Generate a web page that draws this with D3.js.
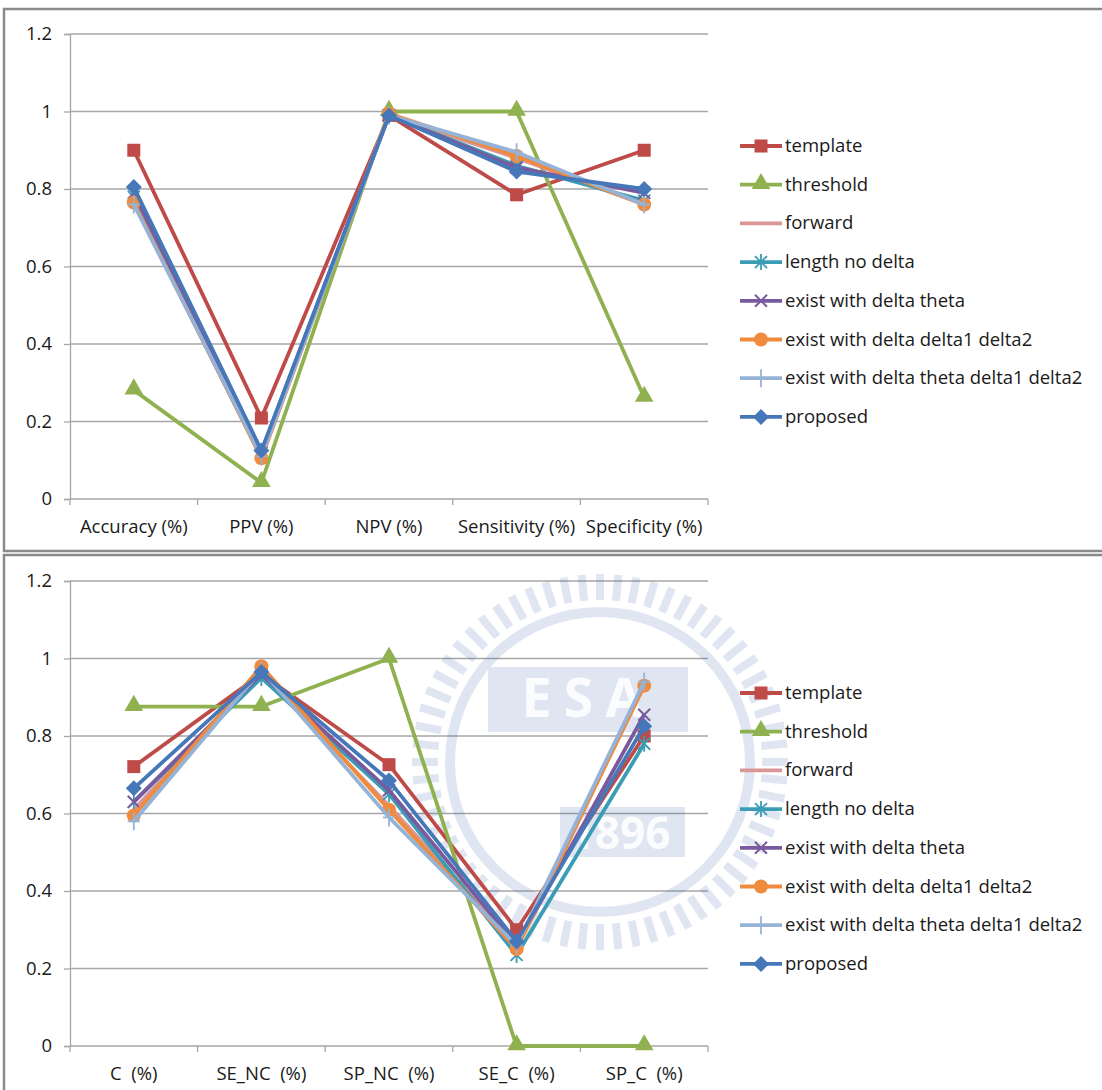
<!DOCTYPE html>
<html>
<head>
<meta charset="utf-8">
<script src="https://cdn.jsdelivr.net/npm/d3@7"></script>
<style>
  html, body { margin: 0; padding: 0; background: #fff; }
  svg { display: block; }
  text { font-family: "Open Sans", Lato, "Liberation Sans", sans-serif; fill: #1a1a1a; }
</style>
</head>
<body>
<svg id="chart" width="1102" height="1090"></svg>
<script>
// ---- data ----
const seriesNames = ["template", "threshold", "forward", "length no delta",
  "exist with delta theta", "exist with delta delta1 delta2",
  "exist with delta theta delta1 delta2", "proposed"];
const seriesColors = ["#BE4B48", "#8FB14F", "#D99694", "#3A9CB5",
  "#7A5A9E", "#F08A3C", "#95B3D7", "#4677B8"];
const seriesMarkers = ["square", "triangle", "none", "asterisk", "x", "circle", "plus", "diamond"];
const yTicks = [0, 0.2, 0.4, 0.6, 0.8, 1, 1.2];

const topCategories = ["Accuracy (%)", "PPV (%)", "NPV (%)", "Sensitivity (%)", "Specificity (%)"];
const topTemplate  = [0.90, 0.209, 0.99, 0.785, 0.90];
const topThreshold = [0.281, 0.042, 1.0, 1.0, 0.262];
const topForward   = [0.77, 0.11, 0.99, 0.88, 0.76];
const topLength    = [0.78, 0.12, 0.99, 0.86, 0.77];
const topTheta     = [0.79, 0.12, 0.99, 0.855, 0.79];
const topD1D2      = [0.765, 0.105, 0.995, 0.885, 0.76];
const topThetaD1D2 = [0.76, 0.11, 0.99, 0.895, 0.76];
const topProposed  = [0.805, 0.125, 0.99, 0.845, 0.80];

const botCategories = ["C  (%)", "SE_NC  (%)", "SP_NC  (%)", "SE_C  (%)", "SP_C  (%)"];
const botTemplate  = [0.721, 0.96, 0.726, 0.30, 0.80];
const botThreshold = [0.876, 0.876, 1.0, 0.0, 0.0];
const botForward   = [0.61, 0.96, 0.62, 0.26, 0.93];
const botLength    = [0.63, 0.95, 0.65, 0.235, 0.78];
const botTheta     = [0.63, 0.96, 0.66, 0.26, 0.855];
const botD1D2      = [0.595, 0.98, 0.61, 0.25, 0.93];
const botThetaD1D2 = [0.58, 0.97, 0.59, 0.26, 0.94];
const botProposed  = [0.665, 0.965, 0.685, 0.27, 0.825];

const topValues = [topTemplate, topThreshold, topForward, topLength, topTheta, topD1D2, topThetaD1D2, topProposed];
const botValues = [botTemplate, botThreshold, botForward, botLength, botTheta, botD1D2, botThetaD1D2, botProposed];

// ---- drawing ----
const svg = d3.select("#chart");
const GRID = "#A6A6A6";
const FONT = 18.5;

// panel frames
svg.append("rect").attr("x", 4).attr("y", 9).attr("width", 1110).attr("height", 542)
  .attr("fill", "none").attr("stroke", "#8a8a8a").attr("stroke-width", 2.5);
svg.append("rect").attr("x", 4).attr("y", 555).attr("width", 1110).attr("height", 560)
  .attr("fill", "none").attr("stroke", "#8a8a8a").attr("stroke-width", 2.5);

function drawMarker(sel, type, color) {
  const s = 6.5;
  if (type === "square") {
    sel.append("rect").attr("x", -s).attr("y", -s).attr("width", 2 * s).attr("height", 2 * s).attr("fill", color);
  } else if (type === "triangle") {
    sel.append("path").attr("d", d3.symbol(d3.symbolTriangle, 150)()).attr("transform", "translate(0,-1)").attr("fill", color);
  } else if (type === "circle") {
    sel.append("circle").attr("r", 7).attr("fill", color);
  } else if (type === "diamond") {
    sel.append("path").attr("d", "M0,-8L8,0L0,8L-8,0Z").attr("fill", color);
  } else if (type === "x") {
    sel.append("path").attr("d", "M-6,-6L6,6M-6,6L6,-6").attr("stroke", color).attr("stroke-width", 2).attr("fill", "none");
  } else if (type === "asterisk") {
    sel.append("path").attr("d", "M-6,-6L6,6M-6,6L6,-6M0,-8L0,8").attr("stroke", color).attr("stroke-width", 1.8).attr("fill", "none");
  } else if (type === "plus") {
    sel.append("path").attr("d", "M0,-9L0,9M-6,0L6,0").attr("stroke", color).attr("stroke-width", 1.8).attr("fill", "none");
  }
}

function drawPanel(top, categories, values, withEmblem) {
  const g = svg.append("g");
  const x0 = 70, x1 = 708;
  const yBottom = top + 490, yTop = top + 25;
  const x = d3.scalePoint().domain(categories).range([x0, x1]).padding(0.5);
  const y = d3.scaleLinear().domain([0, 1.2]).range([yBottom, yTop]);

  // horizontal gridlines
  g.selectAll(".grid").data(yTicks.filter(d => d > 0)).join("line")
    .attr("x1", x0).attr("x2", x1)
    .attr("y1", d => y(d)).attr("y2", d => y(d))
    .attr("stroke", GRID).attr("stroke-width", 1.3);

  // y axis
  const yAxis = d3.axisLeft(y).tickValues(yTicks).tickSize(6).tickPadding(12)
    .tickFormat(d => d3.format("~g")(d));
  const ya = g.append("g").attr("transform", `translate(${x0},0)`).call(yAxis);
  ya.select(".domain").attr("stroke", GRID).attr("stroke-width", 1.3);
  ya.selectAll(".tick line").attr("stroke", GRID).attr("stroke-width", 1.3);
  ya.selectAll(".tick text").attr("font-size", FONT).attr("fill", "#1a1a1a")
    .style("font-family", "'Open Sans', Lato, sans-serif");

  // x axis: ticks at category boundaries
  const step = x.step();
  const bounds = d3.range(categories.length + 1).map(i => x0 + i * step);
  g.append("line").attr("x1", x0).attr("x2", x1).attr("y1", yBottom).attr("y2", yBottom)
    .attr("stroke", GRID).attr("stroke-width", 1.3);
  g.selectAll(".xt").data(bounds).join("line")
    .attr("x1", d => d).attr("x2", d => d).attr("y1", yBottom).attr("y2", yBottom + 6)
    .attr("stroke", GRID).attr("stroke-width", 1.3);
  g.selectAll(".xl").data(categories).join("text")
    .attr("x", d => x(d)).attr("y", yBottom + 34)
    .attr("text-anchor", "middle").attr("font-size", FONT)
    .style("white-space", "pre")
    .text(d => d);

  if (withEmblem) drawEmblem(g);

  // series lines + markers
  const line = d3.line().x((d, i) => x(categories[i])).y(d => y(d));
  values.forEach((vals, si) => {
    const col = seriesColors[si];
    g.append("path").datum(vals).attr("d", line)
      .attr("fill", "none").attr("stroke", col).attr("stroke-width", 3.8)
      .attr("stroke-linejoin", "round");
    vals.forEach((v, i) => {
      const m = g.append("g").attr("transform", `translate(${x(categories[i])},${y(v)})`);
      drawMarker(m, seriesMarkers[si], col);
    });
  });

  // legend
  const lg = g.append("g").attr("transform", `translate(740,${top + 137})`);
  seriesNames.forEach((name, i) => {
    const row = lg.append("g").attr("transform", `translate(0,${i * 38.7})`);
    row.append("line").attr("x1", 0).attr("x2", 42).attr("y1", 0).attr("y2", 0)
      .attr("stroke", seriesColors[i]).attr("stroke-width", 3.8);
    const m = row.append("g").attr("transform", "translate(21,0)");
    drawMarker(m, seriesMarkers[i], seriesColors[i]);
    row.append("text").attr("x", 45).attr("y", 6).attr("font-size", FONT).text(name);
  });
}

// faint circular seal printed behind the lower panel
function drawEmblem(g) {
  const cx = 600, cy = 762;
  const e = g.append("g").attr("opacity", 0.15).attr("fill", "#2f5fb0").attr("stroke", "none");
  const n = 64;
  d3.range(n).forEach(i => {
    const a = i / n * 2 * Math.PI;
    e.append("rect").attr("x", -4).attr("y", -188).attr("width", 8).attr("height", 26)
      .attr("transform", `translate(${cx},${cy}) rotate(${a * 180 / Math.PI})`);
  });
  e.append("circle").attr("cx", cx).attr("cy", cy).attr("r", 150)
    .attr("fill", "none").attr("stroke", "#2f5fb0").attr("stroke-width", 10);
  e.append("rect").attr("x", cx - 112).attr("y", cy - 95).attr("width", 200).attr("height", 65);
  e.append("rect").attr("x", cx - 40).attr("y", cy + 45).attr("width", 125).attr("height", 50);
  const w = g.append("g").attr("opacity", 0.9);
  w.append("text").attr("x", cx + 20).attr("y", cy + 87).attr("text-anchor", "middle")
    .attr("font-size", 44).attr("font-weight", "bold").style("fill", "#fff").text("1896");
  w.append("text").attr("x", cx - 12).attr("y", cy - 45).attr("text-anchor", "middle")
    .attr("font-size", 54).attr("font-weight", "bold").style("fill", "#fff").attr("letter-spacing", 12).text("ESA");
}

drawPanel(9, topCategories, topValues, false);
drawPanel(556, botCategories, botValues, true);
</script>
</body>
</html>
